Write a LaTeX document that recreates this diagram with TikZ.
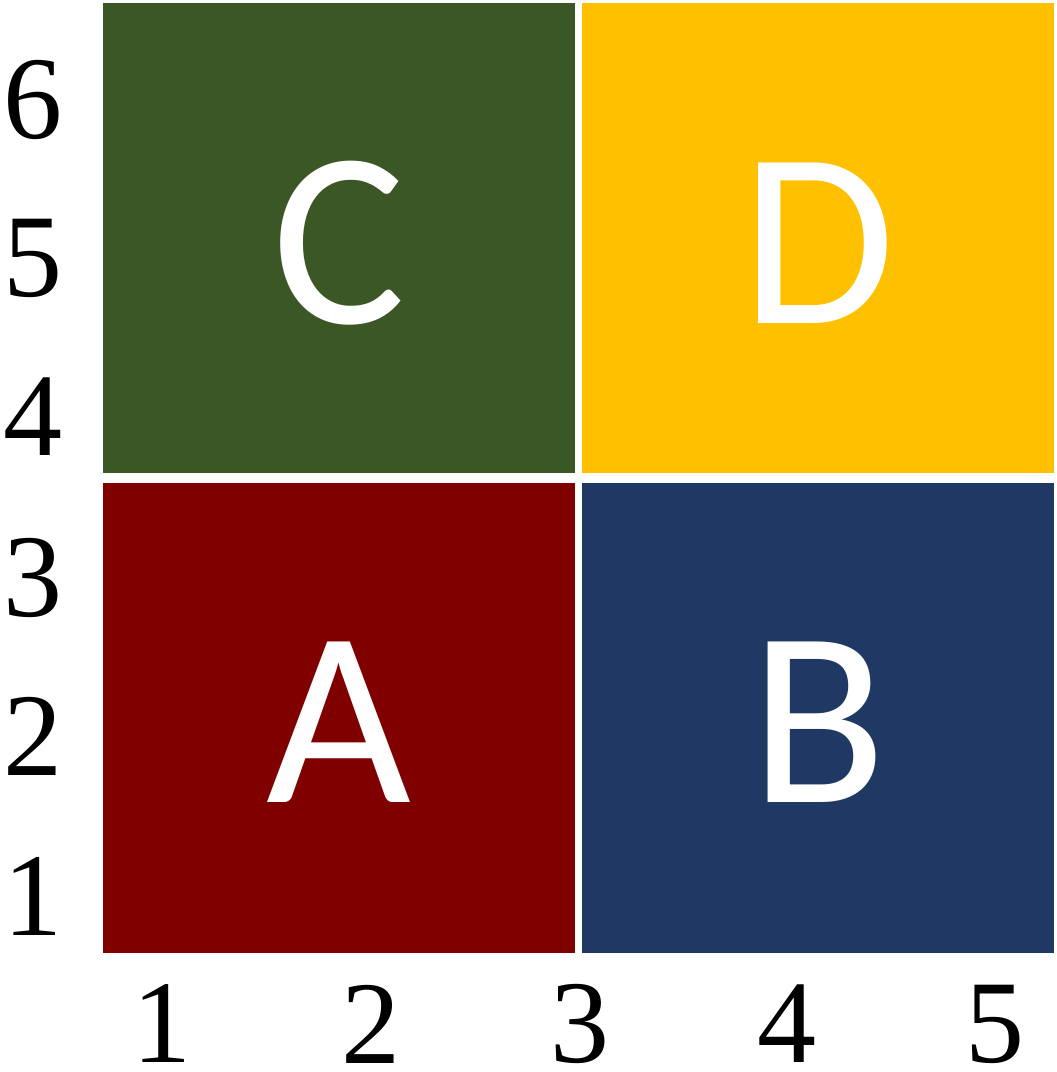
\documentclass[tikz,border=0pt]{standalone}
\usepackage{fontspec}
\setmainfont{Liberation Serif}
\newfontfamily\cellfont{Carlito}
\newfontfamily\tickfont{Liberation Serif}
\usepackage{tikz}

\definecolor{cellA}{HTML}{800000}
\definecolor{cellB}{HTML}{203864}
\definecolor{cellC}{HTML}{3B5726}
\definecolor{cellD}{HTML}{FFC000}

\tikzset{
  cell/.style={inner sep=0pt,minimum width=11.8cm,minimum height=11.75cm,
    text=white,font=\cellfont\fontsize{178}{178}\selectfont},
  tick/.style={inner sep=0pt,font=\tickfont\fontsize{84}{84}\selectfont}
}

\begin{document}
\begin{tikzpicture}

\useasboundingbox (0,0) rectangle (26.425,26.8);

% quadrants
\node[cell,fill=cellA] (A) at (8.475,8.85) {};
\node[cell,fill=cellB] (B) at (20.46,8.85) {};
\node[cell,fill=cellC] (C) at (8.475,20.85) {};
\node[cell,fill=cellD] (D) at (20.46,20.85) {};
\node[cell,minimum size=0pt] (labA) at ([yshift=-0.1cm]A.center) {A};
\node[cell,minimum size=0pt] (labB) at ([yshift=-0.1cm]B.center) {B};
\node[cell,minimum size=0pt] (labC) at ([yshift=-0.12cm]C.center) {C};
\node[cell,minimum size=0pt] (labD) at ([yshift=-0.12cm]D.center) {D};

% vertical axis
\node[tick] (y1) at (0.83,4.375) {1};
\node[tick] (y2) at (0.83,8.4) {2};
\node[tick] (y3) at (0.83,12.35) {3};
\node[tick] (y4) at (0.83,16.375) {4};
\node[tick] (y5) at (0.83,20.35) {5};
\node[tick] (y6) at (0.83,24.3) {6};

% horizontal axis
\node[tick] (x1) at (4.05,1.2) {1};
\node[tick] (x2) at (9.275,1.2) {2};
\node[tick] (x3) at (14.5,1.2) {3};
\node[tick] (x4) at (19.675,1.2) {4};
\node[tick] (x5) at (24.875,1.2) {5};

\end{tikzpicture}
\end{document}
